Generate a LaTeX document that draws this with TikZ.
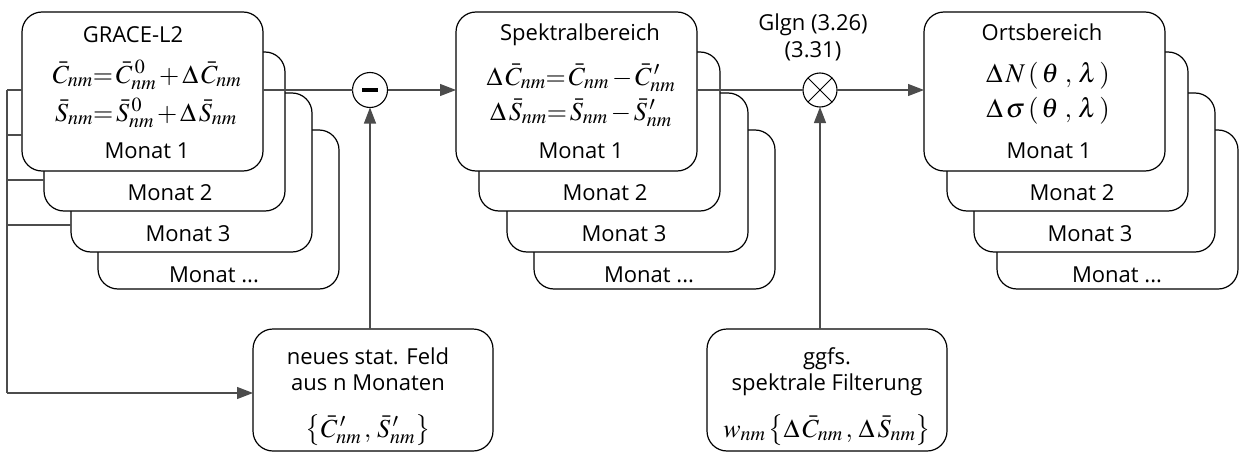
\documentclass[tikz,border=0pt]{standalone}
\usepackage{mathptmx}
\usepackage{fontspec}
\setmainfont{Open Sans}
\usetikzlibrary{arrows.meta}
\DeclareMathSizes{26}{26}{20}{15}
\DeclareMathSizes{27}{27}{20}{15}

\begin{document}
\begin{tikzpicture}[x=1pt,y=-1pt,
  card/.style={draw=black, line width=1.2pt, fill=white, rounded corners=20pt,
    minimum width=241pt, minimum height=159pt, inner sep=0pt, outer sep=0pt,
    anchor=north west},
  lowcard/.style={card, minimum width=240pt, minimum height=122pt},
  txt/.style={font=\fontsize{22}{26}\selectfont, anchor=base, inner sep=0pt},
  mth/.style={font=\fontsize{26}{28}\selectfont, anchor=base, inner sep=0pt},
  conn/.style={draw=black!70, line width=1.1pt},
  arr/.style={conn, -{Triangle[length=16pt, width=12pt]}},
  op/.style={circle, draw=black, line width=1.1pt, fill=white, minimum size=35pt,
    inner sep=0pt, outer sep=0pt}
]
\useasboundingbox (0,0) rectangle (1239,452);

% --- GRACE-L2 stack (back to front)
\node[card] (g4) at (98,130) {};
\node[card] (g3) at (71,93) {};
\node[card] (g2) at (44,52) {};
\node[card] (g1) at (22,12) {};
\node[txt] (g1t) at (133,43) {GRACE-L2};
\node[mth] (g1a) at (147,83) {$\bar C_{nm}{=}\,\bar C^{\,0}_{nm}\,{+}\,\Delta\,\bar C_{nm}$};
\node[mth] (g1b) at (146,121) {$\bar S_{nm}{=}\,\bar S^{\,0}_{nm}\,{+}\,\Delta\,\bar S_{nm}$};
\node[txt] (g1m) at (147,158) {Monat 1};
\node[txt] (g2m) at (170,200) {Monat 2};
\node[txt] (g3m) at (188,241) {Monat 3};
\node[txt] (g4m) at (214,282) {Monat ...};

% --- Spektralbereich stack
\node[card] (s4) at (534,130) {};
\node[card] (s3) at (507,93) {};
\node[card] (s2) at (479,52) {};
\node[card] (s1) at (456,12) {};
\node[txt] (s1t) at (580,41) {Spektralbereich};
\node[mth] (s1a) at (581,85) {$\Delta\,\bar C_{nm}{=}\,\bar C_{nm}\,{-}\,\bar C^{\,\prime}_{nm}$};
\node[mth] (s1b) at (581,120) {$\Delta\,\bar S_{nm}{=}\,\bar S_{nm}\,{-}\,\bar S^{\,\prime}_{nm}$};
\node[txt] (s1m) at (581,158) {Monat 1};
\node[txt] (s2m) at (605,200) {Monat 2};
\node[txt] (s3m) at (624,241) {Monat 3};
\node[txt] (s4m) at (649,282) {Monat ...};

% --- Ortsbereich stack
\node[card] (o4) at (997,130) {};
\node[card] (o3) at (974,93) {};
\node[card] (o2) at (947,52) {};
\node[card] (o1) at (924,12) {};
\node[txt] (o1t) at (1042,41) {Ortsbereich};
\node[mth, font=\fontsize{27}{30}\selectfont] (o1a) at (1048,82) {$\Delta\,N\,(\,\theta\;,\,\lambda\,)$};
\node[mth, font=\fontsize{27}{30}\selectfont] (o1b) at (1048,117) {$\Delta\,\sigma\,(\,\theta\;,\,\lambda\,)$};
\node[txt] (o1m) at (1049,158) {Monat 1};
\node[txt] (o2m) at (1072,200) {Monat 2};
\node[txt] (o3m) at (1090,241) {Monat 3};
\node[txt] (o4m) at (1117,282) {Monat ...};

% --- lower boxes
\node[lowcard] (nf) at (253,329) {};
\node[txt] (nf1) at (368,364) {neues stat. Feld};
\node[txt] (nf2) at (368,390) {aus n Monaten};
\node[mth] (nf3) at (368,437) {$\left\{\bar C^{\,\prime}_{nm}\,,\,\bar S^{\,\prime}_{nm}\right\}$};

\node[lowcard] (ff) at (707,329) {};
\node[txt] (ff1) at (827,364) {ggfs.};
\node[txt] (ff2) at (827,390) {spektrale Filterung};
\node[mth] (ff3) at (827,437) {$w_{nm}\left\{\Delta\,\bar C_{nm}\,,\,\Delta\,\bar S_{nm}\right\}$};

% --- operators
\node[op] (m) at (370,90) {};
\draw[line width=3.5pt] ([xshift=-8pt]m.center) -- ([xshift=8pt]m.center);
\node[op, minimum size=34pt] (x) at (820,90) {};
\draw[line width=1pt] (x.north east) -- (x.south west) (x.north west) -- (x.south east);
\node[txt] (eqa) at (813,31) {Glgn (3.26)};
\node[txt] (eqb) at (813,57) {(3.31)};

% --- connectors
\coordinate (bus) at (7,90);
\coordinate (b2) at (7,135);
\coordinate (b3) at (7,180);
\coordinate (b4) at (7,225);
\coordinate (busend) at (7,393);
\draw[conn] (g1.east |- m) -- (m);
\draw[arr] (m) -- (s1.west |- m);
\draw[arr] (nf.north -| m) -- (m.south);
\draw[conn] (s1.east |- x) -- (x);
\draw[arr] (x) -- (o1.west |- x);
\draw[arr] (ff.north -| x) -- (x.south);
\draw[conn] (bus) -- (bus -| g1.west);
\draw[conn] (b2) -- (b2 -| g1.west);
\draw[conn] (b3) -- (b3 -| g2.west);
\draw[conn] (b4) -- (b4 -| g3.west);
\draw[conn] (bus) -- (busend);
\draw[arr] (busend) -- (busend -| nf.west);
\end{tikzpicture}
\end{document}
